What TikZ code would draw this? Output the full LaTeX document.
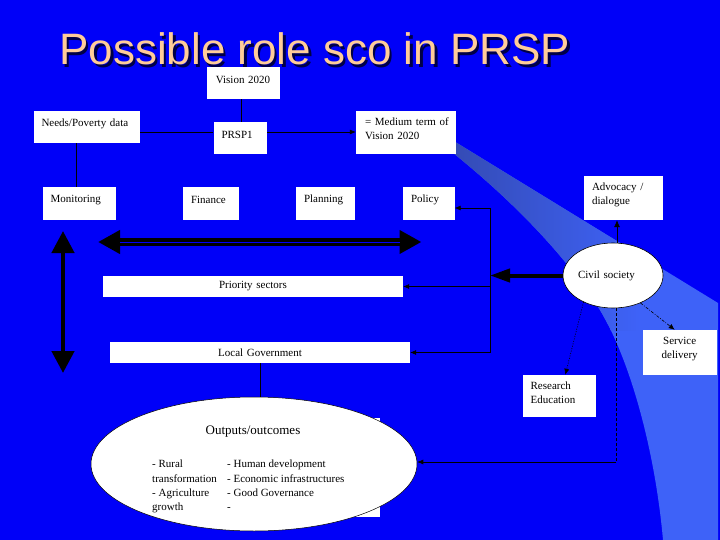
\documentclass[tikz,border=0pt]{standalone}
\usepackage{fontspec}
\setmainfont{Liberation Serif}
\newfontfamily\titlefont{Liberation Sans}
\usetikzlibrary{arrows.meta,calc,shapes.geometric}
\definecolor{bg}{RGB}{0,0,248}
\definecolor{bandL}{RGB}{62,98,248}
\definecolor{bandD}{RGB}{50,70,165}
\definecolor{peach}{RGB}{255,204,153}
\definecolor{tshadow}{RGB}{0,0,70}
\newcommand\bxpad{\par\kern7pt}
\begin{document}
\begin{tikzpicture}[x=1pt,y=-1pt,
  wbox/.style={fill=white, draw=none, inner sep=0pt, align=left,
    font=\fontsize{11}{14}\selectfont},
  cbox/.style={wbox, align=center},
  txt/.style={inner sep=0pt, font=\fontsize{11}{14.3}\selectfont, align=left},
  thinline/.style={line width=0.5pt, black},
  thinarr/.style={line width=0.6pt, black, -{Latex[length=6pt,width=5pt]}},
  bigdbl/.style={line width=4.5pt, black, {Triangle[length=22pt,width=22pt]}-{Triangle[length=22pt,width=22pt]}},
  bigone/.style={line width=4pt, black, -{Triangle[length=20pt,width=13pt]}}
]
\fill[bg] (0,0) rectangle (720,540);
\useasboundingbox (0,0) rectangle (720,540);

% light band
\def\bandpath{(452,140) -- (718,303) -- (718,540) -- (663,540) .. controls (655,450) and (630,360) .. (600,310) .. controls (575,270) and (530,215) .. (452,152) -- cycle}
\fill[bandL] \bandpath;
\fill[bandL] (664,303) rectangle (718,540);
\begin{scope}
\clip \bandpath;
\shade[left color=bandD, right color=bandL] (410,100) rectangle (640,330);
\end{scope}

% title
\node[font=\titlefont\fontsize{44}{50}\selectfont, text=tshadow, anchor=base west, inner sep=0pt] (tsh) at (61.5,67.5) {Possible role sco in PRSP};
\node[font=\titlefont\fontsize{44}{50}\selectfont, text=peach, anchor=base west, inner sep=0pt] (title) at (59,65) {Possible role sco in PRSP};

% boxes
\node[cbox, minimum width=73pt, minimum height=32pt, text width=60pt] (vis) at (243,83) {Vision 2020\bxpad};
\node[wbox, minimum width=106.5pt, minimum height=32pt, text width=90.5pt] (needs) at (86.75,127) {Needs/Poverty data\bxpad};
\node[wbox, minimum width=53.5pt, minimum height=32pt, text width=37.5pt] (prsp) at (240.25,138) {PRSP1\bxpad};
\node[wbox, minimum width=99.5pt, minimum height=43pt, text width=81.5pt] (med) at (405.75,132.5) {\mbox{= Medium term of}\\Vision 2020\bxpad};
\node[wbox, minimum width=73pt, minimum height=33pt, text width=57pt] (mon) at (79.2,203.5) {Monitoring\bxpad};
\node[wbox, minimum width=56pt, minimum height=33pt, text width=40pt] (fin) at (211,203.5) {Finance\bxpad};
\node[wbox, minimum width=59pt, minimum height=33pt, text width=43pt] (plan) at (325.5,203.5) {Planning\bxpad};
\node[wbox, minimum width=51.5pt, minimum height=33pt, text width=35.5pt] (pol) at (428.75,203.5) {Policy\bxpad};
\node[wbox, minimum width=78.5pt, minimum height=44pt, text width=62.5pt] (adv) at (623.25,198) {Advocacy /\\dialogue\bxpad};
\node[cbox, minimum width=300pt, minimum height=21pt, text width=290pt] (prio) at (253,286.5) {Priority sectors};
\node[cbox, minimum width=300pt, minimum height=21pt, text width=290pt] (loc) at (260,352.5) {Local Government};
\node[cbox, minimum width=74pt, minimum height=45pt, text width=60pt] (serv) at (679.7,352.5) {Service\\delivery\bxpad};
\node[wbox, minimum width=73.3pt, minimum height=42pt, text width=57.3pt] (res) at (559.3,396) {Research\\Education\bxpad};

\node[ellipse, fill=white, draw=black, line width=0.6pt, minimum width=100pt, minimum height=65pt, inner sep=0pt, text width=70pt, align=left, font=\fontsize{11}{14}\selectfont] (cs) at (613,275.5) {Civil society};

% outputs
\node[fill=white, minimum width=220pt, minimum height=99pt, inner sep=0pt] (outbg) at (270,467.5) {};
\node[ellipse, fill=white, draw=black, line width=0.5pt, minimum width=326pt, minimum height=134pt, inner sep=0pt] (out) at (254,464) {};
\node[inner sep=0pt, font=\fontsize{13}{15}\selectfont] (outt) at (253,432) {Outputs/outcomes};
\node[txt, anchor=north west] (outl) at (152,460) {- Rural\\transformation\\- Agriculture\\growth};
\node[txt, anchor=north west] (outr) at (227,460) {- Human development\\- Economic infrastructures\\- Good Governance\\-};

% helper coordinates
\coordinate (ly) at (0,132);
\coordinate (vx) at (241,0);
\coordinate (nx) at (76,0);
\coordinate (bt) at (490,208);
\coordinate (csx) at (617,0);
\coordinate (dc) at (616,462);
\coordinate (hl) at (98,242);
\coordinate (hr) at (421.5,242);
\coordinate (vt) at (63,231);
\coordinate (vb) at (63,373);

% connectors
\draw[thinline] (needs.east |- ly) -- (prsp.west |- ly);
\draw[thinarr] (prsp.east |- ly) -- (med.west |- ly);
\draw[thinline] (vis.south -| vx) -- (prsp.north -| vx);
\draw[thinline] (needs.south -| nx) -- (mon.north -| nx);

\draw[line width=7.5pt, black, {Triangle[length=22pt,width=22.5pt]}-{Triangle[length=22pt,width=22.5pt]}] (hl) -- (hr);
\draw[line width=1pt, bg] ($(hl)+(22,0)$) -- ($(hr)+(-22,0)$);
\draw[bigdbl] (vt) -- (vb);

\draw[bigone] (cs.west) -- (cs.west -| bt);
\draw[line width=0.6pt] (bt) -- (bt |- loc.east);
\draw[thinarr] (bt) -- (bt -| pol.east);
\draw[thinarr] (bt |- prio.east) -- (prio.east);
\draw[thinarr] (bt |- loc.east) -- (loc.east);

\draw[line width=0.6pt, -{Latex[length=7pt,width=6pt]}] (cs.north -| csx) -- (adv.south -| csx);
\draw[line width=0.6pt, dash pattern=on 3pt off 1.5pt on 0.8pt off 1.5pt, -{Latex[length=6pt,width=5pt]}] (cs.-45) -- ($(serv.north)+(-5,0)$);
\draw[line width=0.6pt, dash pattern=on 1pt off 1.5pt, -{Latex[length=6pt,width=5pt]}] (cs.-138) -- ($(res.north)+(6,0)$);
\draw[line width=0.6pt, dash pattern=on 3pt off 2pt] (cs.south -| dc) -- (dc);
\draw[thinarr] (dc) -- (dc -| out.east);
\draw[thinline] (loc.south) -- (loc.south |- out.north);
\end{tikzpicture}
\end{document}
